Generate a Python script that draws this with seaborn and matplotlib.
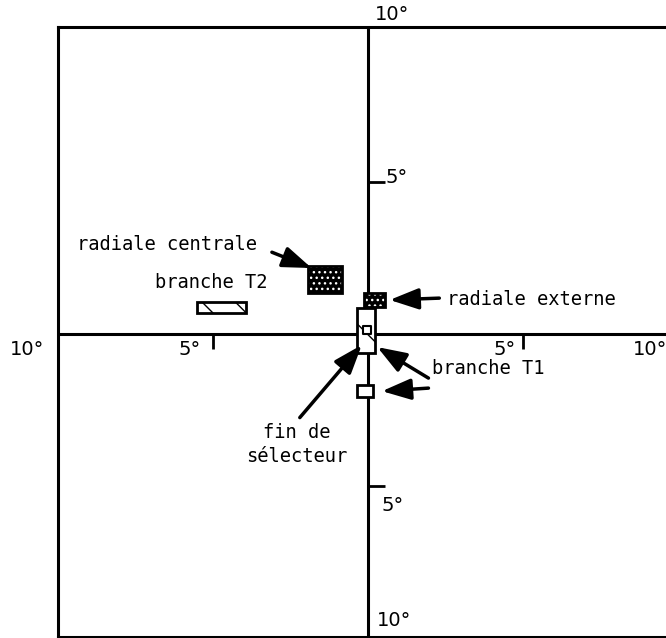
import matplotlib
matplotlib.use("Agg")
import matplotlib.pyplot as plt
import matplotlib.patches as mpatches
import seaborn as sns

# ---- data (degrees of visual field) ----
field_names = ["radiale centrale", "radiale externe", "branche T2", "branche T1 haut", "branche T1 bas"]
field_x = [-1.39, 0.21, -4.73, -0.06, -0.10]
field_y = [1.79, 1.12, 0.87, 0.115, -1.875]
field_w = [1.10, 0.68, 1.58, 0.58, 0.52]
field_h = [0.89, 0.46, 0.36, 1.48, 0.39]
field_fill = ["stipple", "stipple", "hatch", "hatch", "open"]

selector_x = [-0.02]
selector_y = [0.13]

tick_values = [-5, 5]
edge_label = "10°"
mid_label = "5°"

labels = ["radiale centrale", "branche T2", "radiale externe", "branche T1", "fin de\nsélecteur"]

sns.set_theme(style="white")
plt.rcParams["font.family"] = ["DejaVu Sans"]
plt.rcParams["text.color"] = "black"

fig = plt.figure(figsize=(6.66, 6.38), dpi=100)
ax = fig.add_axes([58 / 666, 1 - 637 / 638, (666 - 58) / 666, (637 - 27) / 638])
ax.set_xlim(-10, 298 / 31)
ax.set_ylim(-303 / 30.4, 307 / 30.4)
ax.set_xticks([])
ax.set_yticks([])
for s in ["left", "top", "bottom"]:
    ax.spines[s].set_linewidth(2.2)
    ax.spines[s].set_color("black")
ax.spines["right"].set_visible(False)

# cross axes
ax.axhline(0, color="black", lw=2.2, zorder=1)
ax.axvline(0, color="black", lw=2.2, zorder=1)

# ticks
for v in tick_values:
    ax.plot([v, v], [0, -0.5], color="black", lw=2, solid_capstyle="butt")
    ax.plot([0, 0.55], [v, v], color="black", lw=2, solid_capstyle="butt")

fs = 14
tk = dict(va="center", fontsize=fs, color="black")
# tick labels
ax.text(-5.74, -0.5, mid_label, ha="center", **tk)
ax.text(4.42, -0.5, mid_label, ha="center", **tk)
ax.text(9.1, -0.5, edge_label, ha="center", clip_on=False, **tk)
ax.text(-11.55, -0.5, edge_label, ha="left", clip_on=False, **tk)
ax.text(0.23, 10.5, edge_label, ha="left", clip_on=False, **tk)
ax.text(0.55, 5.15, mid_label, ha="left", **tk)
ax.text(0.45, -5.65, mid_label, ha="left", **tk)
ax.text(0.3, -9.41, edge_label, ha="left", **tk)

# receptive fields
for x, y, w, h, f in zip(field_x, field_y, field_w, field_h, field_fill):
    x0, y0 = x - w / 2, y - h / 2
    if f == "stipple":
        ax.add_patch(mpatches.Rectangle((x0, y0), w, h, facecolor="black",
                                        edgecolor="white", hatch="...", lw=0, zorder=3))
        ax.add_patch(mpatches.Rectangle((x0, y0), w, h, facecolor="none",
                                        edgecolor="black", lw=2, zorder=4))
    elif f == "hatch":
        ax.add_patch(mpatches.Rectangle((x0, y0), w, h, facecolor="white",
                                        edgecolor="black", hatch="\\", lw=2, zorder=3))
    else:
        ax.add_patch(mpatches.Rectangle((x0, y0), w, h, facecolor="white",
                                        edgecolor="black", lw=2, zorder=3))

# fin de sélecteur marker
sns.scatterplot(x=selector_x, y=selector_y, marker="s", s=30, facecolor="white",
                edgecolor="black", linewidth=1.5, ax=ax, zorder=5)

# labels
lt = dict(va="center", fontsize=13.5, color="black", family=["DejaVu Sans Mono"])
ax.text(-9.39, 2.96, labels[0], ha="left", **lt)
ax.text(-6.87, 1.71, labels[1], ha="left", **lt)
ax.text(2.55, 1.12, labels[2], ha="left", **lt)
ax.text(2.06, -1.12, labels[3], ha="left", **lt)
ax.text(-2.29, -3.63, labels[4], ha="center", linespacing=1.3, **lt)

aprops = dict(arrowstyle="-|>,head_length=1.1,head_width=0.4", color="black", lw=2.5,
              mutation_scale=16, shrinkA=0, shrinkB=0)
# radiale centrale
ax.annotate("", xy=(-1.82, 2.17), xytext=(-3.1, 2.69), arrowprops=aprops)
# radiale externe
ax.annotate("", xy=(0.7, 1.12), xytext=(2.3, 1.18), arrowprops=aprops)
# branche T1 (upper)
ax.annotate("", xy=(0.3, -0.43), xytext=(1.95, -1.45), arrowprops=aprops)
# branche T1 (lower)
ax.annotate("", xy=(0.45, -1.88), xytext=(1.95, -1.78), arrowprops=aprops)
# fin de sélecteur
ax.annotate("", xy=(-0.2, -0.36), xytext=(-2.2, -2.75), arrowprops=aprops)

fig.savefig("out.png", dpi=100)
